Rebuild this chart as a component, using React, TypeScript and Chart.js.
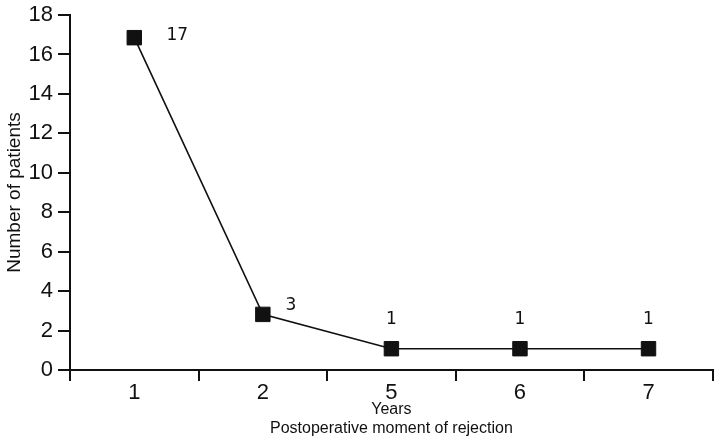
import React, { useEffect, useRef } from "react";
import { Chart, registerables } from "chart.js";

Chart.register(...registerables);

const categories = ["1", "2", "5", "6", "7"];
const patients = [16.85, 2.82, 1.08, 1.08, 1.08];
const pointLabels = ["17", "3", "1", "1", "1"];
const yTicks = [0, 2, 4, 6, 8, 10, 12, 14, 16, 18];
const yTitle = "Number of patients";
const xTitle = ["Years", "Postoperative moment of rejection"];

const INK = "#111111";

const labelPlugin = {
  id: "pointValueLabels",
  afterDatasetsDraw(chart: any) {
    const meta = chart.getDatasetMeta(0);
    const ctx = chart.ctx;
    ctx.save();
    ctx.fillStyle = INK;
    ctx.font = '17px "DejaVu Sans"';
    ctx.textAlign = "center";
    ctx.textBaseline = "middle";
    meta.data.forEach((pt: any, i: number) => {
      let dx = 0;
      let dy = -29;
      if (i === 0) {
        dx = 43;
        dy = -2;
      } else if (i === 1) {
        dx = 28;
        dy = -9;
      }
      ctx.fillText(pointLabels[i], pt.x + dx, pt.y + dy);
    });
    ctx.restore();
  },
};

export default function App() {
  const ref = useRef<HTMLCanvasElement | null>(null);
  useEffect(() => {
    if (!ref.current) return;
    const chart = new Chart(ref.current, {
      type: "line",
      data: {
        labels: categories,
        datasets: [
          {
            data: patients,
            borderColor: INK,
            borderWidth: 1.6,
            backgroundColor: INK,
            pointStyle: "rect",
            pointRadius: 10.2,
            pointBorderWidth: 1,
            pointBorderColor: INK,
            pointBackgroundColor: INK,
            tension: 0,
          },
        ],
      },
      plugins: [labelPlugin],
      options: {
        animation: false,
        responsive: false,
        layout: { padding: { top: 15, right: 9, bottom: 0, left: 0 } },
        plugins: {
          legend: { display: false },
          tooltip: { enabled: false },
        },
        scales: {
          x: {
            offset: true,
            grid: {
              offset: true,
              drawOnChartArea: false,
              drawTicks: true,
              tickLength: 11,
              color: INK,
              lineWidth: 2,
            },
            border: { display: true, color: INK, width: 2 },
            ticks: {
              color: INK,
              padding: -1,
              font: { family: '"Liberation Sans", Arial, sans-serif', size: 22 },
            },
            title: {
              display: true,
              text: xTitle,
              color: INK,
              font: { family: '"Liberation Sans", Arial, sans-serif', size: 16, lineHeight: 1.2 },
              padding: { top: 0, bottom: 8 },
            },
            afterFit(scale: any) {
              scale.height = 76;
              scale.paddingLeft = 0;
              scale.paddingRight = 0;
            },
          },
          y: {
            min: 0,
            max: 18,
            afterBuildTicks(scale: any) {
              scale.ticks = yTicks.map((v) => ({ value: v }));
            },
            grid: {
              drawOnChartArea: false,
              drawTicks: true,
              tickLength: 12,
              color: INK,
              lineWidth: 2,
            },
            border: { display: true, color: INK, width: 2 },
            ticks: {
              color: INK,
              padding: 5,
              font: { family: '"Liberation Sans", Arial, sans-serif', size: 22 },
            },
            title: {
              display: true,
              text: yTitle,
              color: INK,
              font: { family: '"Liberation Sans", Arial, sans-serif', size: 19 },
              padding: { top: 3, bottom: 0 },
            },
            afterFit(scale: any) {
              scale.width = 70;
              scale.paddingTop = 0;
              scale.paddingBottom = 0;
            },
          },
        },
      },
    });
    return () => chart.destroy();
  }, []);
  return (
    <div style={{ position: "fixed", left: 0, top: 0, width: 724, height: 446, background: "#fff" }}>
      <canvas ref={ref} width={724} height={446} style={{ display: "block" }} />
    </div>
  );
}
